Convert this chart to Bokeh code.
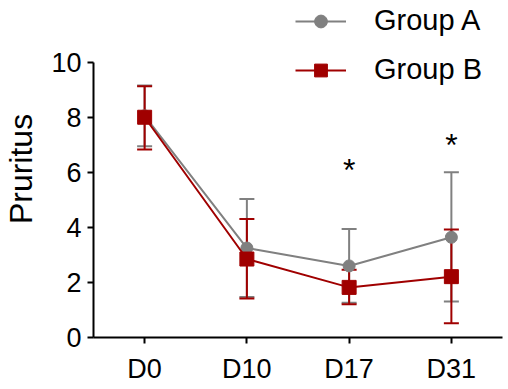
from bokeh.plotting import figure
from bokeh.models import (ColumnDataSource, FactorRange, Range1d, FixedTicker,
                          Whisker, TeeHead, Legend, LegendItem)
from bokeh.core.properties import value
from bokeh.embed import file_html
from bokeh.resources import INLINE

days = ["D0", "D10", "D17", "D31"]
group_a_mean = [8.05, 3.25, 2.6, 3.64]
group_a_lower = [6.95, 1.47, 1.26, 1.31]
group_a_upper = [9.15, 5.03, 3.94, 6.0]
group_b_mean = [8.0, 2.85, 1.82, 2.21]
group_b_lower = [6.83, 1.42, 1.21, 0.52]
group_b_upper = [9.13, 4.3, 2.46, 3.92]
sig_days = ["D17", "D31"]
sig_y = [6.07, 7.0]
y_ticks = [0, 2, 4, 6, 8, 10]

GRAY = "#808080"
RED = "#a00000"
FONT = "Liberation Sans"

p = figure(width=508, height=389, x_range=FactorRange(*days), y_range=Range1d(0, 12.24),
           output_backend="svg", toolbar_location=None,
           min_border_left=92, min_border_right=6, min_border_top=0, min_border_bottom=52)
p.outline_line_color = None
p.xgrid.visible = False
p.ygrid.visible = False
p.background_fill_color = "white"
p.border_fill_color = "white"

for ax in (p.xaxis[0], p.yaxis[0]):
    ax.axis_line_width = 2
    ax.axis_line_color = "black"
    ax.major_tick_line_width = 2
    ax.major_tick_line_color = "black"
    ax.major_tick_out = 6
    ax.major_tick_in = 0
    ax.minor_tick_line_color = None
    ax.major_label_text_font = FONT
    ax.major_label_text_font_size = "27px"
    ax.major_label_text_color = "black"

p.yaxis.ticker = FixedTicker(ticks=y_ticks)
p.yaxis.bounds = (0, 10)
p.yaxis.axis_label = "Pruritus"
p.yaxis.axis_label_text_font = FONT
p.yaxis.axis_label_text_font_size = "32px"
p.yaxis.axis_label_text_font_style = "normal"
p.yaxis.axis_label_text_color = "black"
p.yaxis.axis_label_standoff = 9
p.yaxis.major_label_standoff = 6
p.xaxis.major_label_standoff = 10

src_a = ColumnDataSource(dict(x=days, y=group_a_mean, lo=group_a_lower, hi=group_a_upper))
src_b = ColumnDataSource(dict(x=days, y=group_b_mean, lo=group_b_lower, hi=group_b_upper))

for src, col in ((src_a, GRAY), (src_b, RED)):
    w = Whisker(source=src, base="x", lower="lo", upper="hi", dimension="height",
                line_color=col, line_width=2,
                upper_head=TeeHead(size=15, line_color=col, line_width=2),
                lower_head=TeeHead(size=15, line_color=col, line_width=2))
    p.add_layout(w)

la = p.line("x", "y", source=src_a, line_color=GRAY, line_width=2)
sa = p.scatter("x", "y", source=src_a, marker="circle", size=12, fill_color=GRAY, line_color=GRAY)
lb = p.line("x", "y", source=src_b, line_color=RED, line_width=2)
sb = p.scatter("x", "y", source=src_b, marker="square", size=14, fill_color=RED, line_color=RED)

p.text(x=sig_days, y=sig_y, text=["*"] * len(sig_days), text_align="center",
       text_baseline="middle", text_font=value(FONT), text_font_size="32px",
       text_color="black")

legend = Legend(items=[LegendItem(label="Group A", renderers=[la, sa]),
                       LegendItem(label="Group B", renderers=[lb, sb])],
                location=(202, 251), orientation="vertical",
                glyph_width=51, glyph_height=32, label_height=32, spacing=16,
                label_standoff=28, padding=0, margin=0,
                border_line_color=None, background_fill_alpha=0,
                label_text_font=FONT, label_text_font_size="29px",
                label_text_color="black", label_text_baseline="middle")
p.add_layout(legend)

open("out.html", "w").write(file_html(p, INLINE))
